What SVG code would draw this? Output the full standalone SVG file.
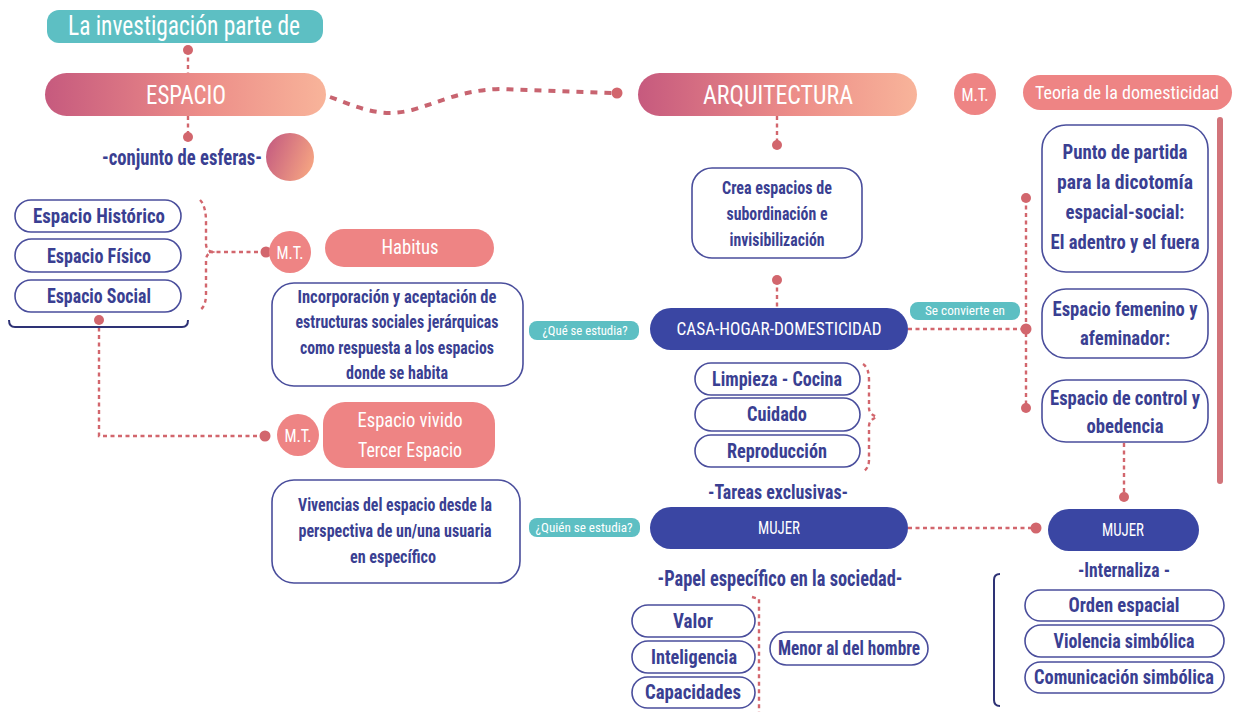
<svg xmlns="http://www.w3.org/2000/svg" width="1234" height="712" viewBox="0 0 1234 712">
  <defs>
    <linearGradient id="warm" x1="0" y1="0" x2="1" y2="0">
      <stop offset="0" stop-color="#C65A7E"/>
      <stop offset="0.55" stop-color="#EC8C88"/>
      <stop offset="1" stop-color="#F8B49A"/>
    </linearGradient>
    <linearGradient id="warmBall" x1="0" y1="0.3" x2="1" y2="0.7">
      <stop offset="0" stop-color="#C65E80"/>
      <stop offset="1" stop-color="#F6A582"/>
    </linearGradient>
    <style>
      text { font-family: "Roboto Condensed", "Liberation Sans Narrow", Roboto, "Liberation Sans", sans-serif; font-weight: bold; text-anchor: middle; dominant-baseline: central; }
      .w { fill: #FFFFFF; font-weight: normal; }
      .n { fill: #3A3F92; }
      .box { fill: #FFFFFF; stroke: #4A4E9C; stroke-width: 1.6; }
      .navy { fill: #3A46A3; }
      .teal { fill: #5DBFC3; }
      .salmon { fill: #EE8484; }
      .dash { fill: none; stroke: #D2666D; stroke-width: 2.4; stroke-dasharray: 4 3.5; }
      .wave { fill: none; stroke: #C86470; stroke-width: 4; stroke-dasharray: 7 7; }
      .dot { fill: #D2666D; }
      .brk { fill: none; stroke: #2E3275; stroke-width: 2; }
    </style>
  </defs>

  <!-- connectors -->
  <g id="connectors">
    <line class="dash" x1="188" y1="50" x2="188" y2="73"/>
    <line class="dash" x1="188" y1="116" x2="188" y2="137"/>
    <path class="wave" d="M330,97 C360,108 380,118 412,110 C440,102 462,90 500,89 L612,93"/>
    <line class="dash" x1="777" y1="116" x2="777" y2="145"/>
    <line class="dash" x1="777" y1="280" x2="777" y2="308"/>
    <line class="dash" x1="908" y1="329" x2="1026" y2="329"/>
    <line class="dash" x1="1026" y1="198" x2="1026" y2="408"/>
    <line class="dash" x1="1124" y1="443" x2="1124" y2="497"/>
    <line class="dash" x1="908" y1="528" x2="1036" y2="528"/>
    <path class="dash" d="M209,252 L266,252"/>
    <path class="dash" d="M99,320 L99,436 L265,436"/>
    <path class="dash" d="M200,200 Q206,206 206,222 L206,244 Q206,250 212,252 Q206,254 206,260 L206,294 Q206,306 200,310"/>
    <path class="dash" d="M863,364 Q869,368 869,380 L869,408 Q869,414 877,417 Q869,420 869,426 L869,460 Q869,468 863,472"/>
    <path class="dash" d="M752,597 L759,599 L759,712"/>
    <circle class="dot" cx="188" cy="50" r="5"/>
    <circle class="dot" cx="188" cy="137" r="5"/>
    <circle class="dot" cx="617" cy="93" r="5.5"/>
    <circle class="dot" cx="777" cy="145" r="5"/>
    <circle class="dot" cx="777" cy="280" r="5"/>
    <circle class="dot" cx="1026" cy="198" r="5"/>
    <circle class="dot" cx="1026" cy="329" r="5.5"/>
    <circle class="dot" cx="1026" cy="408" r="5"/>
    <circle class="dot" cx="1124" cy="497" r="5"/>
    <circle class="dot" cx="1036" cy="528" r="5.5"/>
    <circle class="dot" cx="266" cy="252" r="5.5"/>
    <circle class="dot" cx="99" cy="320" r="5"/>
    <circle class="dot" cx="265" cy="436" r="5.5"/>
  </g>

  <g id="investigacion">
    <rect class="teal" x="47" y="10" width="276" height="33" rx="12"/>
    <text class="w" x="184" y="26" font-size="27" textLength="232" lengthAdjust="spacingAndGlyphs">La investigación parte de</text>
  </g>

  <g id="espacio">
    <rect x="45" y="73" width="281" height="43" rx="21.5" fill="url(#warm)"/>
    <text class="w" x="186" y="95" font-size="25" textLength="80" lengthAdjust="spacingAndGlyphs">ESPACIO</text>
  </g>

  <g id="esferas">
    <text class="n" x="182" y="157" font-size="22" textLength="160" lengthAdjust="spacingAndGlyphs">-conjunto de esferas-</text>
    <circle cx="290" cy="157" r="24" fill="url(#warmBall)"/>
  </g>

  <g id="arquitectura">
    <rect x="638" y="73" width="279" height="43" rx="21.5" fill="url(#warm)"/>
    <text class="w" x="778" y="95" font-size="25" textLength="150" lengthAdjust="spacingAndGlyphs">ARQUITECTURA</text>
  </g>

  <g id="mt-domesticidad">
    <circle class="salmon" cx="975" cy="94" r="21"/>
    <text class="w" x="975" y="94" font-size="19" textLength="27" lengthAdjust="spacingAndGlyphs">M.T.</text>
  </g>

  <g id="teoria-domesticidad">
    <rect class="salmon" x="1023" y="75" width="209" height="35" rx="17.5"/>
    <text class="w" x="1127" y="92" font-size="19" textLength="184" lengthAdjust="spacingAndGlyphs">Teoria de la domesticidad</text>
    <rect x="1217" y="117" width="6" height="367" rx="3" fill="#D2747A"/>
  </g>

  <g id="crea-espacios">
    <rect class="box" x="692" y="168" width="170" height="90" rx="20"/>
    <text class="n" x="777" y="188" font-size="17.5" textLength="110" lengthAdjust="spacingAndGlyphs">Crea espacios de</text>
    <text class="n" x="777" y="214" font-size="17.5" textLength="101" lengthAdjust="spacingAndGlyphs">subordinación e</text>
    <text class="n" x="777" y="240" font-size="17.5" textLength="95" lengthAdjust="spacingAndGlyphs">invisibilización</text>
  </g>

  <g id="punto-partida">
    <rect class="box" x="1042" y="125" width="166" height="147" rx="24"/>
    <text class="n" x="1125" y="152" font-size="20" textLength="125" lengthAdjust="spacingAndGlyphs">Punto de partida</text>
    <text class="n" x="1125" y="182" font-size="20" textLength="136" lengthAdjust="spacingAndGlyphs">para la dicotomía</text>
    <text class="n" x="1125" y="212" font-size="20" textLength="119" lengthAdjust="spacingAndGlyphs">espacial-social:</text>
    <text class="n" x="1125" y="242" font-size="20" textLength="149" lengthAdjust="spacingAndGlyphs">El adentro y el fuera</text>
  </g>

  <g id="espacio-femenino">
    <rect class="box" x="1042" y="289" width="166" height="69" rx="24"/>
    <text class="n" x="1125" y="309" font-size="20" textLength="145" lengthAdjust="spacingAndGlyphs">Espacio femenino y</text>
    <text class="n" x="1125" y="338" font-size="20" textLength="90" lengthAdjust="spacingAndGlyphs">afeminador:</text>
  </g>

  <g id="espacio-control">
    <rect class="box" x="1042" y="380" width="166" height="62" rx="24"/>
    <text class="n" x="1125" y="398" font-size="20" textLength="150" lengthAdjust="spacingAndGlyphs">Espacio de control y</text>
    <text class="n" x="1125" y="426" font-size="20" textLength="77" lengthAdjust="spacingAndGlyphs">obedencia</text>
  </g>

  <g id="casa-hogar">
    <rect class="navy" x="650" y="308" width="258" height="42" rx="21"/>
    <text class="w" x="779" y="329" font-size="18.5" textLength="205" lengthAdjust="spacingAndGlyphs">CASA-HOGAR-DOMESTICIDAD</text>
  </g>

  <g id="que-se-estudia">
    <rect class="teal" x="529" y="321" width="110" height="19" rx="8"/>
    <text class="w" x="585" y="331" font-size="12" textLength="85" lengthAdjust="spacingAndGlyphs">¿Qué se estudia?</text>
  </g>

  <g id="se-convierte">
    <rect class="teal" x="910" y="302" width="110" height="18" rx="8"/>
    <text class="w" x="965" y="311" font-size="12" textLength="80" lengthAdjust="spacingAndGlyphs">Se convierte en</text>
  </g>

  <g id="tareas">
    <rect class="box" x="695" y="363" width="165" height="32" rx="16"/>
    <text class="n" x="777" y="379" font-size="19.5" textLength="130" lengthAdjust="spacingAndGlyphs">Limpieza - Cocina</text>
    <rect class="box" x="695" y="398" width="165" height="33" rx="16.5"/>
    <text class="n" x="777" y="414" font-size="19.5" textLength="60" lengthAdjust="spacingAndGlyphs">Cuidado</text>
    <rect class="box" x="695" y="435" width="165" height="32" rx="16"/>
    <text class="n" x="777" y="451" font-size="19.5" textLength="100" lengthAdjust="spacingAndGlyphs">Reproducción</text>
    <text class="n" x="778" y="492" font-size="20" textLength="140" lengthAdjust="spacingAndGlyphs">-Tareas exclusivas-</text>
  </g>

  <g id="mujer-centro">
    <rect class="navy" x="650" y="507" width="258" height="42" rx="21"/>
    <text class="w" x="779" y="528" font-size="18.5" textLength="42" lengthAdjust="spacingAndGlyphs">MUJER</text>
  </g>

  <g id="quien-se-estudia">
    <rect class="teal" x="529" y="518" width="111" height="19" rx="8"/>
    <text class="w" x="584" y="528" font-size="12" textLength="97" lengthAdjust="spacingAndGlyphs">¿Quién se estudia?</text>
  </g>

  <g id="papel">
    <text class="n" x="780" y="578" font-size="22" textLength="245" lengthAdjust="spacingAndGlyphs">-Papel específico en la sociedad-</text>
    <rect class="box" x="632" y="605" width="123" height="32" rx="16"/>
    <text class="n" x="693" y="621" font-size="19.5" textLength="40" lengthAdjust="spacingAndGlyphs">Valor</text>
    <rect class="box" x="632" y="641" width="123" height="32" rx="16"/>
    <text class="n" x="694" y="657" font-size="19.5" textLength="86" lengthAdjust="spacingAndGlyphs">Inteligencia</text>
    <rect class="box" x="632" y="677" width="123" height="31" rx="15.5"/>
    <text class="n" x="693" y="692" font-size="19.5" textLength="96" lengthAdjust="spacingAndGlyphs">Capacidades</text>
  </g>

  <g id="menor-hombre">
    <rect class="box" x="770" y="632" width="158" height="33" rx="16.5"/>
    <text class="n" x="849" y="648" font-size="20" textLength="142" lengthAdjust="spacingAndGlyphs">Menor al del hombre</text>
  </g>

  <g id="mujer-derecha">
    <rect class="navy" x="1048" y="509" width="151" height="42" rx="21"/>
    <text class="w" x="1123" y="530" font-size="18.5" textLength="42" lengthAdjust="spacingAndGlyphs">MUJER</text>
  </g>

  <g id="internaliza">
    <text class="n" x="1124" y="570" font-size="19.5" textLength="92" lengthAdjust="spacingAndGlyphs">-Internaliza -</text>
    <path class="brk" d="M1000,574 Q994,574 994,580 L994,700 Q994,706 1000,706"/>
    <rect class="box" x="1025" y="590" width="199" height="31" rx="15.5"/>
    <text class="n" x="1124" y="605" font-size="19.5" textLength="111" lengthAdjust="spacingAndGlyphs">Orden espacial</text>
    <rect class="box" x="1025" y="625" width="199" height="32" rx="16"/>
    <text class="n" x="1124" y="641" font-size="19.5" textLength="141" lengthAdjust="spacingAndGlyphs">Violencia simbólica</text>
    <rect class="box" x="1025" y="662" width="199" height="31" rx="15.5"/>
    <text class="n" x="1124" y="677" font-size="19.5" textLength="180" lengthAdjust="spacingAndGlyphs">Comunicación simbólica</text>
  </g>

  <g id="espacios-tipos">
    <rect class="box" x="15" y="200" width="166" height="32" rx="16"/>
    <text class="n" x="99" y="216" font-size="19.5" textLength="132" lengthAdjust="spacingAndGlyphs">Espacio Histórico</text>
    <rect class="box" x="15" y="239" width="166" height="33" rx="16.5"/>
    <text class="n" x="99" y="256" font-size="19.5" textLength="104" lengthAdjust="spacingAndGlyphs">Espacio Físico</text>
    <rect class="box" x="15" y="280" width="166" height="32" rx="16"/>
    <text class="n" x="99" y="296" font-size="19.5" textLength="104" lengthAdjust="spacingAndGlyphs">Espacio Social</text>
    <path class="brk" d="M9,320 Q9,327 15,327 L182,327 Q188,327 188,320"/>
  </g>

  <g id="mt-habitus">
    <circle class="salmon" cx="290" cy="252" r="21"/>
    <text class="w" x="290" y="252" font-size="19" textLength="27" lengthAdjust="spacingAndGlyphs">M.T.</text>
  </g>

  <g id="habitus">
    <rect class="salmon" x="325" y="229" width="169" height="38" rx="19"/>
    <text class="w" x="410" y="247" font-size="19.5" textLength="57" lengthAdjust="spacingAndGlyphs">Habitus</text>
  </g>

  <g id="incorporacion">
    <rect class="box" x="272" y="283" width="251" height="103" rx="22"/>
    <text class="n" x="397" y="297" font-size="17.5" textLength="199" lengthAdjust="spacingAndGlyphs">Incorporación y aceptación  de</text>
    <text class="n" x="397" y="322" font-size="17.5" textLength="203" lengthAdjust="spacingAndGlyphs">estructuras sociales jerárquicas</text>
    <text class="n" x="397" y="348" font-size="17.5" textLength="194" lengthAdjust="spacingAndGlyphs">como respuesta a los espacios</text>
    <text class="n" x="397" y="373" font-size="17.5" textLength="102" lengthAdjust="spacingAndGlyphs">donde se habita</text>
  </g>

  <g id="mt-vivido">
    <circle class="salmon" cx="298" cy="435" r="21"/>
    <text class="w" x="298" y="435" font-size="19" textLength="27" lengthAdjust="spacingAndGlyphs">M.T.</text>
  </g>

  <g id="espacio-vivido">
    <rect class="salmon" x="323" y="402" width="172" height="66" rx="22"/>
    <text class="w" x="410" y="420" font-size="20" textLength="105" lengthAdjust="spacingAndGlyphs">Espacio vivido</text>
    <text class="w" x="410" y="450" font-size="20" textLength="104" lengthAdjust="spacingAndGlyphs">Tercer Espacio</text>
  </g>

  <g id="vivencias">
    <rect class="box" x="272" y="480" width="248" height="103" rx="22"/>
    <text class="n" x="395" y="505" font-size="17.5" textLength="194" lengthAdjust="spacingAndGlyphs">Vivencias del espacio desde la</text>
    <text class="n" x="395" y="531" font-size="17.5" textLength="193" lengthAdjust="spacingAndGlyphs">perspectiva de un/una usuaria</text>
    <text class="n" x="393" y="557" font-size="17.5" textLength="86" lengthAdjust="spacingAndGlyphs">en específico</text>
  </g>
</svg>
